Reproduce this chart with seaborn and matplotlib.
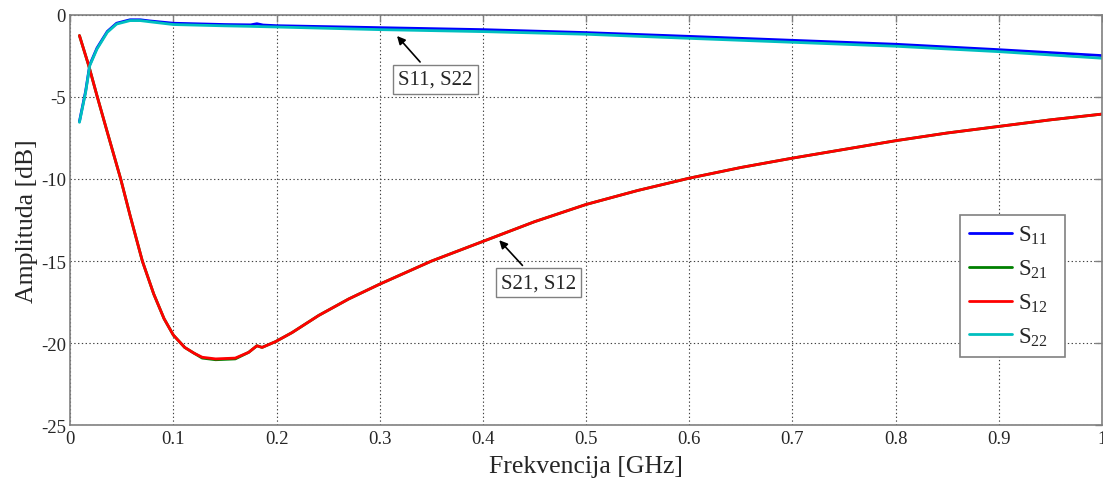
import matplotlib

matplotlib.use("Agg")

import matplotlib.pyplot as plt
import pandas as pd
import seaborn as sns

# S11 / S22 (reflection)
freq_refl = [0.009, 0.015, 0.019, 0.026, 0.036, 0.045, 0.058, 0.068, 0.077, 0.100,
             0.150, 0.175, 0.181, 0.187, 0.200, 0.300, 0.400, 0.500, 0.600, 0.700,
             0.800, 0.900, 1.000]
s11 = [-6.50, -4.65, -3.05, -2.03, -1.02, -0.52, -0.31, -0.31, -0.38, -0.52,
       -0.60, -0.62, -0.55, -0.63, -0.67, -0.79, -0.91, -1.09, -1.32, -1.56,
       -1.80, -2.13, -2.49]
s22 = [-6.55, -4.72, -3.10, -2.09, -1.07, -0.57, -0.36, -0.36, -0.43, -0.60,
       -0.68, -0.71, -0.72, -0.73, -0.75, -0.91, -1.03, -1.19, -1.44, -1.68,
       -1.92, -2.25, -2.65]

# S21 / S12 (transmission)
freq_trans = [0.009, 0.018, 0.026, 0.036, 0.049, 0.058, 0.070, 0.081, 0.091, 0.100,
              0.111, 0.120, 0.128, 0.141, 0.160, 0.173, 0.181, 0.186, 0.199, 0.215,
              0.241, 0.270, 0.300, 0.350, 0.400, 0.450, 0.500, 0.550, 0.600, 0.650,
              0.700, 0.750, 0.800, 0.850, 0.900, 0.950, 1.000]
s12 = [-1.27, -3.10, -4.93, -7.15, -10.0, -12.2, -15.0, -17.0, -18.5, -19.5,
       -20.25, -20.6, -20.85, -20.95, -20.9, -20.55, -20.15, -20.25, -19.9, -19.35,
       -18.3, -17.3, -16.4, -15.0, -13.8, -12.6, -11.55, -10.7, -9.95, -9.3,
       -8.73, -8.2, -7.67, -7.2, -6.8, -6.4, -6.05]
s21 = [-1.27, -3.10, -4.93, -7.15, -10.0, -12.2, -15.0, -17.0, -18.5, -19.5,
       -20.25, -20.6, -20.9, -21.0, -20.95, -20.55, -20.15, -20.25, -19.9, -19.35,
       -18.3, -17.3, -16.4, -15.0, -13.8, -12.6, -11.55, -10.7, -9.95, -9.3,
       -8.73, -8.2, -7.67, -7.2, -6.8, -6.4, -6.05]

series_names = ["S$_{11}$", "S$_{21}$", "S$_{12}$", "S$_{22}$"]
series_colors = ["#0000ff", "#008000", "#ff0000", "#00bfbf"]


def main() -> None:
    sns.set_style("white")
    plt.rcParams["font.family"] = ["Liberation Serif", "DejaVu Serif"]
    plt.rcParams["mathtext.fontset"] = "custom"
    plt.rcParams["mathtext.rm"] = "Liberation Serif"
    plt.rcParams["mathtext.default"] = "regular"

    series = [
        (freq_refl, s11),
        (freq_trans, s21),
        (freq_trans, s12),
        (freq_refl, s22),
    ]

    fig = plt.figure(figsize=(11.03, 4.81), dpi=100)
    ax = fig.add_axes([0.0636, 0.1134, 0.9355, 0.854])

    for (x, y), name, color in zip(series, series_names, series_colors):
        df = pd.DataFrame({"f": x, "a": y})
        sns.lineplot(data=df, x="f", y="a", color=color, lw=2, label=name, ax=ax)

    ax.set_xlim(0, 1)
    ax.set_ylim(-25, 0)
    ax.set_xticks([i / 10 for i in range(11)])
    ax.set_xticklabels(["0", "0.1", "0.2", "0.3", "0.4", "0.5", "0.6", "0.7", "0.8", "0.9", "1"])
    ax.set_yticks([0, -5, -10, -15, -20, -25])
    ax.set_yticklabels(["0", "-5", "-10", "-15", "-20", "-25"])
    ax.grid(True, color="#404040", linestyle=(0, (1.2, 2.2)), linewidth=0.8)
    ax.tick_params(direction="in", length=5, width=1, color="#808080",
                   labelsize=13.5, top=True, right=True, pad=3)
    for spine in ax.spines.values():
        spine.set_color("#808080")
        spine.set_linewidth(1.2)

    ax.set_xlabel("Frekvencija [GHz]", fontsize=18.5, labelpad=6)
    ax.set_ylabel("Amplituda [dB]", fontsize=18.5, labelpad=2)

    box = dict(boxstyle="square,pad=0.25", fc="white", ec="#808080", lw=1)
    arrow = dict(arrowstyle="-|>", color="black", lw=1.2, mutation_scale=12)
    ax.annotate("S11, S22", xy=(0.315, -1.17), xytext=(0.354, -3.93),
                fontsize=15, ha="center", va="center", bbox=box, arrowprops=arrow)
    ax.annotate("S21, S12", xy=(0.414, -13.6), xytext=(0.4537, -16.31),
                fontsize=15, ha="center", va="center", bbox=box, arrowprops=arrow)

    leg = ax.legend(loc="upper left", bbox_to_anchor=(0.8624, 0.1698, 0.1018, 0.3426),
                    mode="expand", borderaxespad=0,
                    fontsize=16.5, handlelength=1.85, handletextpad=0.3, labelspacing=0.5,
                    borderpad=0.4, fancybox=False, framealpha=1)
    leg.get_frame().set_edgecolor("#808080")
    leg.get_frame().set_linewidth(1.2)

    fig.savefig("out.png", dpi=100)
    plt.close(fig)


if __name__ == "__main__":
    main()
